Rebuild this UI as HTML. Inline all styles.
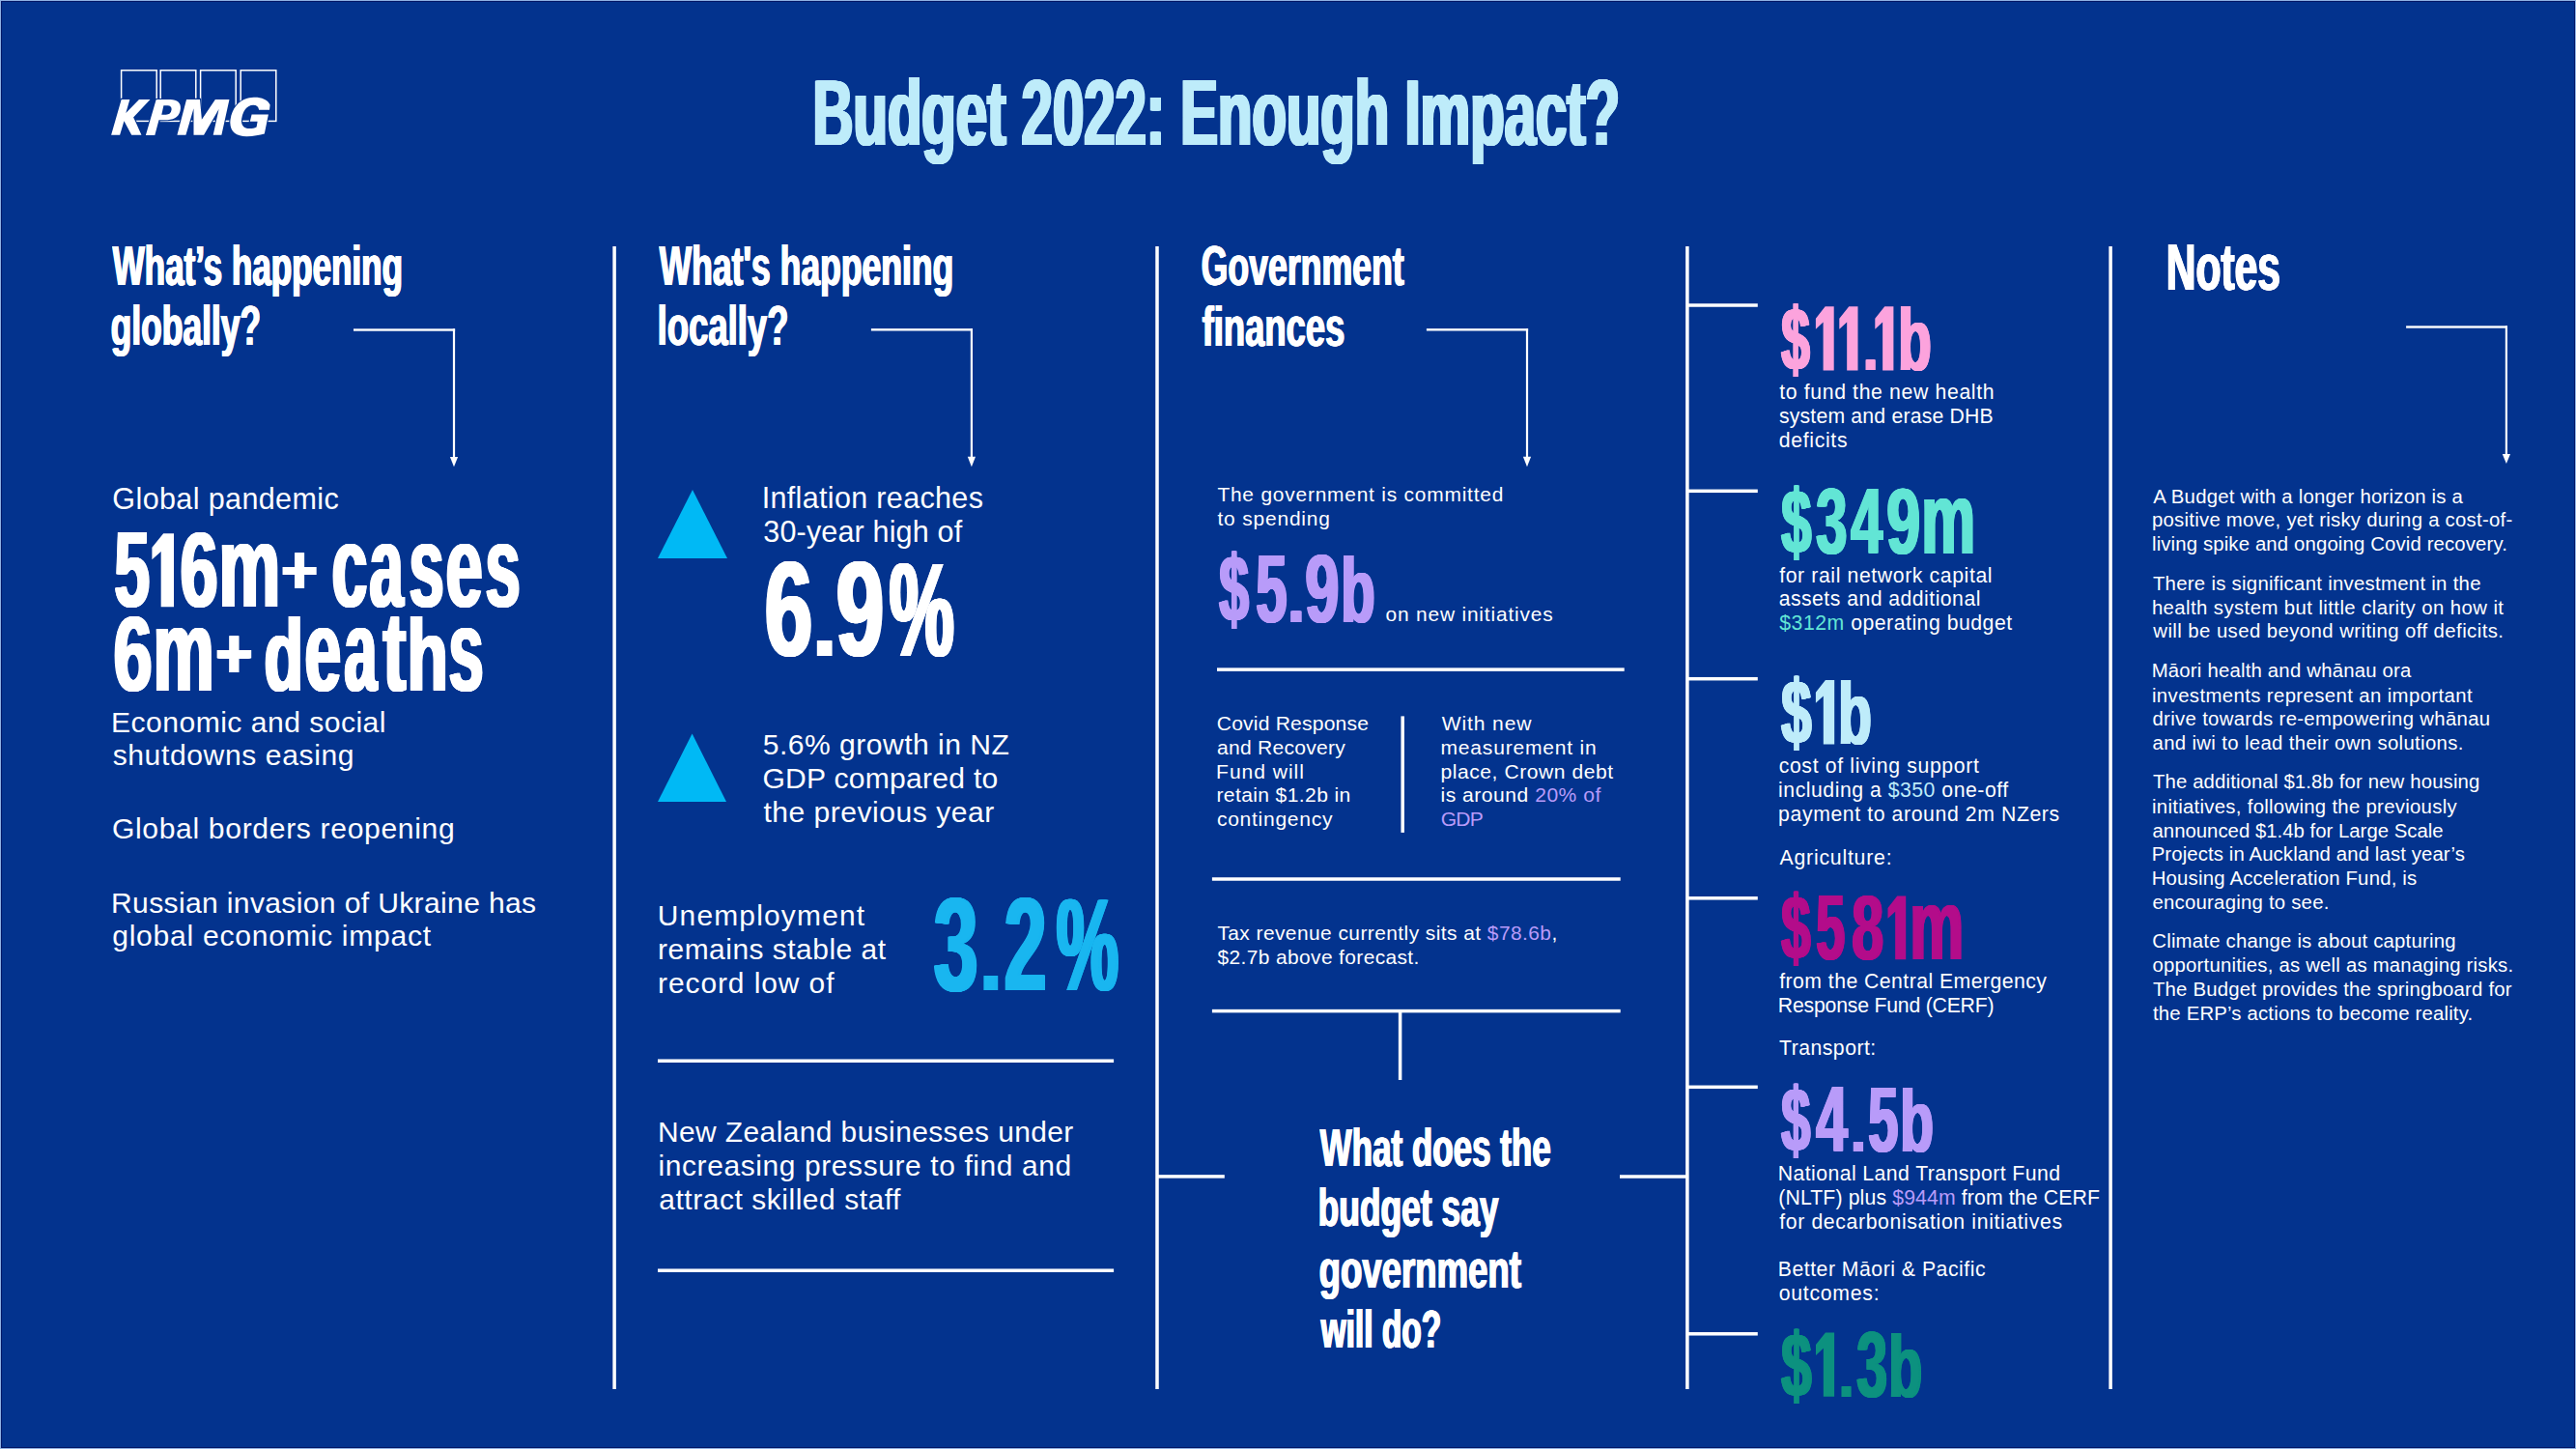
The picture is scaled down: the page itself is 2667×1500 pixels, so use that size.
<!DOCTYPE html>
<html><head><meta charset="utf-8"><style>
html,body{margin:0;padding:0;}
body{width:2667px;height:1500px;overflow:hidden;position:relative;background:#03338e;font-family:"Liberation Sans",sans-serif;}
.t{position:absolute;white-space:pre;transform-origin:0 0;}
.r{position:absolute;}
svg{position:absolute;left:0;top:0;}
</style></head><body>
<div class="r" style="left:0px;top:0px;width:2667px;height:1px;background:#8fb1e3"></div>
<div class="r" style="left:0px;top:1499px;width:2667px;height:1px;background:#8fb1e3"></div>
<div class="r" style="left:0px;top:0px;width:1px;height:1500px;background:#8fb1e3"></div>
<div class="r" style="left:2666px;top:0px;width:1px;height:1500px;background:#8fb1e3"></div>
<div class="r" style="left:1px;top:1px;width:2665px;height:1px;background:#001766"></div>
<div class="r" style="left:1px;top:1498px;width:2665px;height:1px;background:#001766"></div>
<div class="r" style="left:1px;top:1px;width:1px;height:1498px;background:#001766"></div>
<div class="r" style="left:2665px;top:1px;width:1px;height:1498px;background:#001766"></div>
<svg width="2667" height="1500" style="position:absolute;left:0;top:0"><g fill="#fff"><rect x="634.35" y="255.00" width="3.50" height="1183.00"/><rect x="1196.25" y="255.00" width="3.50" height="1183.00"/><rect x="1745.15" y="255.00" width="3.50" height="1183.00"/><rect x="2183.35" y="255.00" width="3.50" height="1183.00"/><rect x="681.00" y="1096.45" width="472.10" height="3.50"/><rect x="681.00" y="1313.45" width="472.10" height="3.50"/><rect x="1260.00" y="691.35" width="421.70" height="3.50"/><rect x="1254.90" y="908.25" width="422.80" height="3.50"/><rect x="1254.90" y="1044.85" width="422.80" height="3.50"/><rect x="1450.45" y="741.40" width="3.50" height="120.50"/><rect x="1447.85" y="1046.00" width="3.50" height="72.00"/><rect x="1198.00" y="1216.15" width="69.80" height="3.50"/><rect x="1677.00" y="1216.25" width="70.00" height="3.50"/><rect x="1746.90" y="314.25" width="72.90" height="3.50"/><rect x="1746.90" y="506.55" width="72.90" height="3.50"/><rect x="1746.90" y="700.95" width="72.90" height="3.50"/><rect x="1746.90" y="928.05" width="72.90" height="3.50"/><rect x="1746.90" y="1123.55" width="72.90" height="3.50"/><rect x="1746.90" y="1379.05" width="72.90" height="3.50"/></g></svg>
<svg width="2667" height="1500" style="position:absolute;left:0;top:0"><g fill="none" stroke="#fff" stroke-width="1.5"><rect x="125.6" y="72.8" width="36.6" height="52.6"/><rect x="166.2" y="72.8" width="36.6" height="52.6"/><rect x="207.6" y="72.8" width="36.6" height="52.6"/><rect x="249.2" y="72.8" width="36.6" height="52.6"/></g><g fill="#fff" stroke="#03338e" stroke-width="2.2" paint-order="stroke" stroke-linejoin="miter"><polygon points="125.66,102.97 134.36,102.97 130.32,116.94 143.99,102.97 155.48,102.97 138.09,121.60 139.95,125.33 146.47,139.77 136.22,139.77 128.46,125.33 124.11,139.77 115.11,139.77"/><path d="M161.7,103 L176.4,103 C183.5,103 187.6,106.5 186.9,112.8 C186.1,120 181.5,123.9 173.5,124.2 L164.5,124.3 L160.3,139.9 L150.9,139.9 Z M169.4,109.2 L167.3,118.8 L171.8,118.8 C175.2,118.8 177.2,117 177.6,113.6 C177.9,110.8 176.3,109.2 173.6,109.2 Z" fill-rule="evenodd"/><polygon points="193.04,102.97 207.02,102.97 208.88,123.78 222.86,102.97 237.45,102.97 229.38,139.77 220.68,139.77 226.58,112.91 211.06,139.77 200.50,139.77 200.50,112.29 192.42,139.77 183.42,139.77"/><path d="M279.6,108.6 C277.2,103 270.5,100.6 262.8,100.8 C249.5,101.2 240.6,110.5 238.6,123.5 C236.8,135.5 244,141.3 255.5,141.2 C262.5,141.1 268.5,140.2 273.8,138.6 L277.9,118.6 L260.6,118.6 L258.8,125.8 L266.6,125.8 L265.6,131.6 C263.8,132.6 261.2,133.1 258.5,133.1 C252,133 249.2,129.3 250.2,122.8 C251.6,114.2 256.2,108.8 262.2,108.8 C265.6,108.8 267.6,110.6 268.1,113.7 L279,113.7 Z"/></g></svg>
<div class="t" style="left:839.63px;top:55.30px;font-size:95.64px;line-height:124px;font-weight:700;color:#beecfa;text-shadow:0.62px 0 0,1.24px 0 0,1.85px 0 0,2.47px 0 0,3.09px 0 0,3.71px 0 0,4.32px 0 0,4.94px 0 0;transform:scaleX(0.6072);">Budget 2022: Enough Impact?</div>
<div class="t" style="left:115.60px;top:238.80px;font-size:56.69px;line-height:74px;font-weight:700;color:#fff;text-shadow:0.53px 0 0,1.05px 0 0,1.58px 0 0,2.10px 0 0;transform:scaleX(0.6179);">What’s happening</div>
<div class="t" style="left:114.18px;top:300.90px;font-size:56.69px;line-height:74px;font-weight:700;color:#fff;text-shadow:0.69px 0 0,1.39px 0 0,2.08px 0 0;transform:scaleX(0.6247);">globally?</div>
<div class="t" style="left:682.20px;top:239.10px;font-size:56.69px;line-height:74px;font-weight:700;color:#fff;text-shadow:0.69px 0 0,1.38px 0 0,2.07px 0 0;transform:scaleX(0.6270);">What's happening</div>
<div class="t" style="left:679.65px;top:301.20px;font-size:56.69px;line-height:74px;font-weight:700;color:#fff;text-shadow:0.67px 0 0,1.35px 0 0,2.02px 0 0;transform:scaleX(0.6434);">locally?</div>
<div class="t" style="left:1242.97px;top:237.90px;font-size:57.41px;line-height:75px;font-weight:700;color:#fff;text-shadow:0.70px 0 0,1.40px 0 0,2.09px 0 0;transform:scaleX(0.6212);">Government</div>
<div class="t" style="left:1243.85px;top:300.50px;font-size:57.41px;line-height:75px;font-weight:700;color:#fff;text-shadow:0.68px 0 0,1.37px 0 0,2.05px 0 0;transform:scaleX(0.6340);">finances</div>
<div class="t" style="left:2242.14px;top:231.50px;font-size:68.32px;line-height:89px;font-weight:700;color:#fff;text-shadow:0.64px 0 0,1.29px 0 0,1.93px 0 0,2.57px 0 0;transform:scaleX(0.6223);">Notes</div>
<div class="t" style="left:1366.40px;top:1150.90px;font-size:56.25px;line-height:73px;font-weight:700;color:#fff;text-shadow:0.70px 0 0,1.39px 0 0,2.09px 0 0;transform:scaleX(0.6220);">What does the</div>
<div class="t" style="left:1364.10px;top:1213.40px;font-size:56.25px;line-height:73px;font-weight:700;color:#fff;text-shadow:0.69px 0 0,1.38px 0 0,2.07px 0 0;transform:scaleX(0.6292);">budget say</div>
<div class="t" style="left:1364.94px;top:1276.80px;font-size:56.25px;line-height:73px;font-weight:700;color:#fff;text-shadow:0.67px 0 0,1.33px 0 0,2.00px 0 0;transform:scaleX(0.6500);">government</div>
<div class="t" style="left:1366.57px;top:1339.30px;font-size:56.25px;line-height:73px;font-weight:700;color:#fff;text-shadow:0.55px 0 0,1.09px 0 0,1.64px 0 0,2.19px 0 0;transform:scaleX(0.5948);">will do?</div>
<svg width="2667" height="1500" style="position:absolute;left:0;top:0"><g fill="#fff"><rect x="366.00" y="340.30" width="105.10" height="2.40"/><rect x="468.90" y="340.30" width="2.2" height="133.60"/><polygon points="465.90,472.90 474.10,472.90 470.00,483.30"/><rect x="901.90" y="340.10" width="105.10" height="2.40"/><rect x="1004.80" y="340.10" width="2.2" height="133.70"/><polygon points="1001.80,472.80 1010.00,472.80 1005.90,483.20"/><rect x="1476.90" y="340.10" width="105.20" height="2.40"/><rect x="1579.90" y="340.10" width="2.2" height="133.70"/><polygon points="1576.90,472.80 1585.10,472.80 1581.00,483.20"/><rect x="2491.10" y="337.30" width="104.90" height="2.40"/><rect x="2593.80" y="337.30" width="2.2" height="133.70"/><polygon points="2590.80,470.00 2599.00,470.00 2594.90,479.90"/></g></svg>
<div class="t" style="left:116.37px;top:495.60px;font-size:30.52px;line-height:40px;color:#fff;letter-spacing:0.379px;">Global pandemic</div>
<div class="t" style="left:117.03px;top:517.80px;font-size:110.47px;line-height:144px;font-weight:700;color:#fff;text-shadow:0.63px 0 0,1.26px 0 0,1.89px 0 0,2.53px 0 0,3.16px 0 0,3.79px 0 0,4.42px 0 0,5.05px 0 0;transform-origin:0 110.50px;transform:translateY(0.00px) scale(0.5938,1.0007);">5</div>
<svg width="2667" height="1500" style="position:absolute;left:0;top:0"><polygon points="169.15,552.30 180.00,552.30 180.00,628.30 166.67,628.30 166.67,571.00 157.40,579.28 157.40,566.74" fill="#fff"/></svg>
<div class="t" style="left:184.84px;top:517.80px;font-size:110.47px;line-height:144px;font-weight:700;color:#fff;text-shadow:0.67px 0 0,1.35px 0 0,2.02px 0 0,2.69px 0 0,3.37px 0 0,4.04px 0 0,4.71px 0 0;transform-origin:0 110.50px;transform:translateY(0.00px) scale(0.6365,0.9864);">6</div>
<div class="t" style="left:225.35px;top:517.80px;font-size:110.47px;line-height:144px;font-weight:700;color:#fff;text-shadow:0.66px 0 0,1.32px 0 0,1.98px 0 0,2.64px 0 0,3.31px 0 0,3.97px 0 0,4.63px 0 0;transform-origin:0 110.50px;transform:translateY(0.00px) scale(0.6482,1.0863);">m</div>
<div class="t" style="left:290.49px;top:517.80px;font-size:110.47px;line-height:144px;font-weight:700;color:#fff;text-shadow:0.65px 0 0,1.30px 0 0,1.95px 0 0,2.60px 0 0,3.25px 0 0,3.90px 0 0,4.55px 0 0,5.20px 0 0;transform-origin:0 110.50px;transform:translateY(-13.66px) scale(0.5765,0.6585);">+</div>
<div class="t" style="left:341.62px;top:517.80px;font-size:110.47px;line-height:144px;font-weight:700;color:#fff;text-shadow:0.63px 0 0,1.25px 0 0,1.88px 0 0,2.51px 0 0,3.13px 0 0,3.76px 0 0,4.39px 0 0,5.01px 0 0;transform-origin:0 110.50px;transform:translateY(0.00px) scale(0.5986,1.0863);">c</div>
<div class="t" style="left:380.77px;top:517.80px;font-size:110.47px;line-height:144px;font-weight:700;color:#fff;text-shadow:0.66px 0 0,1.32px 0 0,1.97px 0 0,2.63px 0 0,3.29px 0 0,3.95px 0 0,4.60px 0 0,5.26px 0 0;transform-origin:0 110.50px;transform:translateY(0.00px) scale(0.5702,1.0863);">a</div>
<div class="t" style="left:421.62px;top:517.80px;font-size:110.47px;line-height:144px;font-weight:700;color:#fff;text-shadow:0.64px 0 0,1.27px 0 0,1.91px 0 0,2.55px 0 0,3.19px 0 0,3.82px 0 0,4.46px 0 0,5.10px 0 0;transform-origin:0 110.50px;transform:translateY(0.00px) scale(0.5884,1.0863);">s</div>
<div class="t" style="left:460.23px;top:517.80px;font-size:110.47px;line-height:144px;font-weight:700;color:#fff;text-shadow:0.69px 0 0,1.38px 0 0,2.07px 0 0,2.76px 0 0,3.45px 0 0,4.14px 0 0,4.83px 0 0;transform-origin:0 110.50px;transform:translateY(0.00px) scale(0.6215,1.0863);">e</div>
<div class="t" style="left:500.62px;top:517.80px;font-size:110.47px;line-height:144px;font-weight:700;color:#fff;text-shadow:0.64px 0 0,1.27px 0 0,1.91px 0 0,2.55px 0 0,3.19px 0 0,3.82px 0 0,4.46px 0 0,5.10px 0 0;transform-origin:0 110.50px;transform:translateY(0.00px) scale(0.5884,1.0863);">s</div>
<div class="t" style="left:115.97px;top:605.30px;font-size:110.47px;line-height:144px;font-weight:700;color:#fff;text-shadow:0.66px 0 0,1.31px 0 0,1.97px 0 0,2.62px 0 0,3.28px 0 0,3.94px 0 0,4.59px 0 0;transform-origin:0 110.50px;transform:translateY(0.00px) scale(0.6533,0.9967);">6</div>
<div class="t" style="left:157.48px;top:605.30px;font-size:110.47px;line-height:144px;font-weight:700;color:#fff;text-shadow:0.67px 0 0,1.33px 0 0,2.00px 0 0,2.66px 0 0,3.33px 0 0,4.00px 0 0,4.66px 0 0;transform-origin:0 110.50px;transform:translateY(0.00px) scale(0.6435,1.0863);">m</div>
<div class="t" style="left:221.65px;top:605.30px;font-size:110.47px;line-height:144px;font-weight:700;color:#fff;text-shadow:0.64px 0 0,1.28px 0 0,1.92px 0 0,2.56px 0 0,3.20px 0 0,3.84px 0 0,4.48px 0 0,5.12px 0 0;transform-origin:0 110.50px;transform:translateY(-13.03px) scale(0.5855,0.6745);">+</div>
<div class="t" style="left:272.16px;top:605.30px;font-size:110.47px;line-height:144px;font-weight:700;color:#fff;text-shadow:0.63px 0 0,1.26px 0 0,1.88px 0 0,2.51px 0 0,3.14px 0 0,3.77px 0 0,4.40px 0 0,5.03px 0 0;transform-origin:0 110.50px;transform:translateY(0.00px) scale(0.5969,0.9489);">d</div>
<div class="t" style="left:314.16px;top:605.30px;font-size:110.47px;line-height:144px;font-weight:700;color:#fff;text-shadow:0.61px 0 0,1.23px 0 0,1.84px 0 0,2.45px 0 0,3.06px 0 0,3.68px 0 0,4.29px 0 0,4.90px 0 0;transform-origin:0 110.50px;transform:translateY(0.00px) scale(0.6122,1.0930);">e</div>
<div class="t" style="left:355.13px;top:605.30px;font-size:110.47px;line-height:144px;font-weight:700;color:#fff;text-shadow:0.68px 0 0,1.37px 0 0,2.05px 0 0,2.74px 0 0,3.42px 0 0,4.10px 0 0,4.79px 0 0,5.47px 0 0;transform-origin:0 110.50px;transform:translateY(0.00px) scale(0.5482,1.0930);">a</div>
<div class="t" style="left:394.70px;top:605.30px;font-size:110.47px;line-height:144px;font-weight:700;color:#fff;text-shadow:0.66px 0 0,1.32px 0 0,1.98px 0 0,2.64px 0 0,3.31px 0 0,3.97px 0 0,4.63px 0 0;transform-origin:0 110.50px;transform:translateY(0.00px) scale(0.6483,1.0544);">t</div>
<div class="t" style="left:420.24px;top:605.30px;font-size:110.47px;line-height:144px;font-weight:700;color:#fff;text-shadow:0.68px 0 0,1.36px 0 0,2.05px 0 0,2.73px 0 0,3.41px 0 0,4.09px 0 0,4.78px 0 0;transform-origin:0 110.50px;transform:translateY(0.00px) scale(0.6280,0.9489);">h</div>
<div class="t" style="left:463.43px;top:605.30px;font-size:110.47px;line-height:144px;font-weight:700;color:#fff;text-shadow:0.64px 0 0,1.28px 0 0,1.92px 0 0,2.56px 0 0,3.20px 0 0,3.84px 0 0,4.48px 0 0,5.11px 0 0;transform-origin:0 110.50px;transform:translateY(0.00px) scale(0.5865,1.0930);">s</div>
<div class="t" style="left:114.99px;top:727.70px;font-size:30.09px;line-height:39px;color:#fff;letter-spacing:0.481px;">Economic and social</div>
<div class="t" style="left:116.65px;top:761.50px;font-size:30.09px;line-height:39px;color:#fff;letter-spacing:0.607px;">shutdowns easing</div>
<div class="t" style="left:115.90px;top:837.90px;font-size:30.09px;line-height:39px;color:#fff;letter-spacing:0.668px;">Global borders reopening</div>
<div class="t" style="left:114.99px;top:915.20px;font-size:30.09px;line-height:39px;color:#fff;letter-spacing:0.349px;">Russian invasion of Ukraine has</div>
<div class="t" style="left:116.20px;top:949.00px;font-size:30.09px;line-height:39px;color:#fff;letter-spacing:0.747px;">global economic impact</div>
<svg width="2667" height="1500" style="position:absolute;left:0;top:0"><polygon points="681,578 753,578 717,507" fill="#00b9f5"/><polygon points="681,830 752,830 716.6,759.5" fill="#00b9f5"/></svg>
<div class="t" style="left:788.65px;top:494.70px;font-size:30.52px;line-height:40px;color:#fff;letter-spacing:0.336px;">Inflation reaches</div>
<div class="t" style="left:790.33px;top:529.70px;font-size:30.52px;line-height:40px;color:#fff;letter-spacing:0.159px;">30-year high of</div>
<div class="t" style="left:790.09px;top:540.80px;font-size:139.54px;line-height:181px;font-weight:700;color:#fff;text-shadow:0.69px 0 0,1.37px 0 0,2.06px 0 0,2.75px 0 0,3.43px 0 0,4.12px 0 0,4.81px 0 0,5.50px 0 0;transform-origin:0 138.50px;transform:translateY(0.00px) scale(0.6369,0.9915);">6</div>
<div class="t" style="left:840.37px;top:540.80px;font-size:139.54px;line-height:181px;font-weight:700;color:#fff;text-shadow:0.63px 0 0,1.26px 0 0,1.89px 0 0,2.51px 0 0,3.14px 0 0,3.77px 0 0,4.40px 0 0,5.03px 0 0,5.66px 0 0;transform-origin:0 138.50px;transform:translateY(0.00px) scale(0.6186,0.7549);">.</div>
<div class="t" style="left:864.39px;top:540.80px;font-size:139.54px;line-height:181px;font-weight:700;color:#fff;text-shadow:0.69px 0 0,1.37px 0 0,2.06px 0 0,2.75px 0 0,3.43px 0 0,4.12px 0 0,4.81px 0 0,5.50px 0 0;transform-origin:0 138.50px;transform:translateY(0.00px) scale(0.6369,0.9915);">9</div>
<div class="t" style="left:919.02px;top:540.80px;font-size:139.54px;line-height:181px;font-weight:700;color:#fff;text-shadow:0.65px 0 0,1.30px 0 0,1.94px 0 0,2.59px 0 0,3.24px 0 0,3.89px 0 0,4.54px 0 0,5.19px 0 0,5.83px 0 0,6.48px 0 0;transform-origin:0 138.50px;transform:translateY(0.00px) scale(0.5400,0.9827);">%</div>
<div class="t" style="left:789.70px;top:751.00px;font-size:30.09px;line-height:39px;color:#fff;letter-spacing:0.483px;">5.6% growth in NZ</div>
<div class="t" style="left:789.40px;top:785.75px;font-size:30.09px;line-height:39px;color:#fff;letter-spacing:0.268px;">GDP compared to</div>
<div class="t" style="left:790.45px;top:820.50px;font-size:30.09px;line-height:39px;color:#fff;letter-spacing:0.499px;">the previous year</div>
<div class="t" style="left:680.75px;top:928.00px;font-size:29.94px;line-height:39px;color:#fff;letter-spacing:1.185px;">Unemployment</div>
<div class="t" style="left:681.05px;top:962.80px;font-size:29.94px;line-height:39px;color:#fff;letter-spacing:0.496px;">remains stable at</div>
<div class="t" style="left:681.05px;top:997.60px;font-size:29.94px;line-height:39px;color:#fff;letter-spacing:0.919px;">record low of</div>
<div class="t" style="left:964.65px;top:886.70px;font-size:138.37px;line-height:180px;font-weight:700;color:#19b6f0;text-shadow:0.65px 0 0,1.31px 0 0,1.96px 0 0,2.62px 0 0,3.27px 0 0,3.93px 0 0,4.58px 0 0,5.24px 0 0,5.89px 0 0;transform-origin:0 138.00px;transform:translateY(0.00px) scale(0.5941,0.9905);">3</div>
<div class="t" style="left:1012.80px;top:886.70px;font-size:138.37px;line-height:180px;font-weight:700;color:#19b6f0;text-shadow:0.67px 0 0,1.35px 0 0,2.02px 0 0,2.69px 0 0,3.36px 0 0,4.04px 0 0,4.71px 0 0,5.38px 0 0,6.05px 0 0;transform-origin:0 138.00px;transform:translateY(0.00px) scale(0.5781,0.7179);">.</div>
<div class="t" style="left:1038.05px;top:886.70px;font-size:138.37px;line-height:180px;font-weight:700;color:#19b6f0;text-shadow:0.69px 0 0,1.37px 0 0,2.06px 0 0,2.74px 0 0,3.43px 0 0,4.11px 0 0,4.80px 0 0,5.48px 0 0,6.17px 0 0;transform-origin:0 138.00px;transform:translateY(0.00px) scale(0.5677,0.9905);">2</div>
<div class="t" style="left:1091.99px;top:886.70px;font-size:138.37px;line-height:180px;font-weight:700;color:#19b6f0;text-shadow:0.67px 0 0,1.34px 0 0,2.01px 0 0,2.68px 0 0,3.35px 0 0,4.02px 0 0,4.69px 0 0,5.36px 0 0,6.03px 0 0,6.70px 0 0;transform-origin:0 138.00px;transform:translateY(0.00px) scale(0.5221,0.9847);">%</div>
<div class="t" style="left:681.00px;top:1152.10px;font-size:29.94px;line-height:39px;color:#fff;letter-spacing:0.406px;">New Zealand businesses under</div>
<div class="t" style="left:681.45px;top:1186.95px;font-size:29.94px;line-height:39px;color:#fff;letter-spacing:0.613px;">increasing pressure to find and</div>
<div class="t" style="left:682.20px;top:1221.80px;font-size:29.94px;line-height:39px;color:#fff;letter-spacing:0.560px;">attract skilled staff</div>
<div class="t" style="left:1260.38px;top:498.40px;font-size:20.93px;line-height:27px;color:#fff;letter-spacing:0.785px;">The government is committed</div>
<div class="t" style="left:1260.49px;top:522.80px;font-size:20.93px;line-height:27px;color:#fff;letter-spacing:0.826px;">to spending</div>
<div class="t" style="left:1260.91px;top:544.60px;font-size:99.27px;line-height:129px;font-weight:700;color:#b89bf9;text-shadow:0.70px 0 0,1.39px 0 0,2.09px 0 0,2.79px 0 0,3.49px 0 0,4.18px 0 0,4.88px 0 0;transform-origin:0 99.00px;transform:translateY(0.00px) scale(0.5531,0.9808);">$</div>
<div class="t" style="left:1298.67px;top:544.60px;font-size:99.27px;line-height:129px;font-weight:700;color:#b89bf9;text-shadow:0.66px 0 0,1.33px 0 0,1.99px 0 0,2.66px 0 0,3.32px 0 0,3.99px 0 0,4.65px 0 0;transform-origin:0 99.00px;transform:translateY(0.00px) scale(0.5802,1.0036);">5</div>
<div class="t" style="left:1332.23px;top:544.60px;font-size:99.27px;line-height:129px;font-weight:700;color:#b89bf9;text-shadow:0.62px 0 0,1.24px 0 0,1.86px 0 0,2.48px 0 0,3.10px 0 0,3.72px 0 0,4.34px 0 0;transform-origin:0 99.00px;transform:translateY(0.00px) scale(0.6221,0.7723);">.</div>
<div class="t" style="left:1349.90px;top:544.60px;font-size:99.27px;line-height:129px;font-weight:700;color:#b89bf9;text-shadow:0.61px 0 0,1.22px 0 0,1.83px 0 0,2.44px 0 0,3.04px 0 0,3.65px 0 0,4.26px 0 0;transform-origin:0 99.00px;transform:translateY(0.00px) scale(0.6335,1.0037);">9</div>
<div class="t" style="left:1387.15px;top:544.60px;font-size:99.27px;line-height:129px;font-weight:700;color:#b89bf9;text-shadow:0.66px 0 0,1.33px 0 0,1.99px 0 0,2.66px 0 0,3.32px 0 0,3.99px 0 0,4.65px 0 0;transform-origin:0 99.00px;transform:translateY(0.00px) scale(0.5804,0.9517);">b</div>
<div class="t" style="left:1434.46px;top:622.00px;font-size:20.93px;line-height:27px;color:#fff;letter-spacing:0.817px;">on new initiatives</div>
<div class="t" style="left:1259.75px;top:735.20px;font-size:21.08px;line-height:27px;color:#fff;letter-spacing:0.200px;">Covid Response</div>
<div class="t" style="left:1259.96px;top:759.95px;font-size:21.08px;line-height:27px;color:#fff;letter-spacing:0.246px;">and Recovery</div>
<div class="t" style="left:1259.11px;top:784.70px;font-size:21.08px;line-height:27px;color:#fff;letter-spacing:0.951px;">Fund will</div>
<div class="t" style="left:1259.43px;top:809.45px;font-size:21.08px;line-height:27px;color:#fff;letter-spacing:0.373px;">retain $1.2b in</div>
<div class="t" style="left:1259.96px;top:834.20px;font-size:21.08px;line-height:27px;color:#fff;letter-spacing:0.700px;">contingency</div>
<div class="t" style="left:1492.79px;top:735.20px;font-size:21.08px;line-height:27px;color:#fff;letter-spacing:0.854px;">With new</div>
<div class="t" style="left:1491.53px;top:759.95px;font-size:21.08px;line-height:27px;color:#fff;letter-spacing:0.771px;">measurement in</div>
<div class="t" style="left:1491.53px;top:784.70px;font-size:21.08px;line-height:27px;color:#fff;letter-spacing:0.538px;">place, Crown debt</div>
<div class="t" style="left:1491.53px;top:809.45px;font-size:21.08px;line-height:27px;color:#fff;letter-spacing:0.506px;">is around <span style="color:#b89bf9">20% of</span></div>
<div class="t" style="left:1491.85px;top:834.20px;font-size:21.08px;line-height:27px;color:#fff;letter-spacing:-0.911px;"><span style="color:#b89bf9">GDP</span></div>
<div class="t" style="left:1260.38px;top:952.30px;font-size:20.93px;line-height:27px;color:#fff;letter-spacing:0.438px;">Tax revenue currently sits at <span style="color:#b89bf9">$78.6b</span>,</div>
<div class="t" style="left:1260.59px;top:977.20px;font-size:20.93px;line-height:27px;color:#fff;letter-spacing:0.377px;">$2.7b above forecast.</div>
<div class="t" style="left:1843.24px;top:287.10px;font-size:96.80px;line-height:126px;font-weight:700;color:#fca3dd;text-shadow:0.68px 0 0,1.36px 0 0,2.03px 0 0,2.71px 0 0,3.39px 0 0,4.07px 0 0,4.75px 0 0;transform-origin:0 96.50px;transform:translateY(0.00px) scale(0.5477,0.9641);">$</div>
<svg width="2667" height="1500" style="position:absolute;left:0;top:0"><polygon points="1889.68,317.20 1898.70,317.20 1898.70,383.60 1887.61,383.60 1887.61,333.53 1879.90,340.77 1879.90,329.82" fill="#fca3dd"/></svg>
<svg width="2667" height="1500" style="position:absolute;left:0;top:0"><polygon points="1914.28,317.20 1923.50,317.20 1923.50,383.60 1912.17,383.60 1912.17,333.53 1904.30,340.77 1904.30,329.82" fill="#fca3dd"/></svg>
<div class="t" style="left:1927.50px;top:287.10px;font-size:96.80px;line-height:126px;font-weight:700;color:#fca3dd;text-shadow:0.67px 0 0,1.35px 0 0,2.02px 0 0,2.70px 0 0,3.37px 0 0,4.05px 0 0,4.72px 0 0;transform-origin:0 96.50px;transform:translateY(0.00px) scale(0.5509,0.7300);">.</div>
<svg width="2667" height="1500" style="position:absolute;left:0;top:0"><polygon points="1951.23,317.20 1960.40,317.20 1960.40,383.60 1949.13,383.60 1949.13,333.53 1941.30,340.77 1941.30,329.82" fill="#fca3dd"/></svg>
<div class="t" style="left:1964.04px;top:287.10px;font-size:96.80px;line-height:126px;font-weight:700;color:#fca3dd;text-shadow:0.64px 0 0,1.28px 0 0,1.92px 0 0,2.56px 0 0,3.20px 0 0,3.84px 0 0,4.48px 0 0;transform-origin:0 96.50px;transform:translateY(0.00px) scale(0.5809,0.9461);">b</div>
<div class="t" style="left:1842.18px;top:392.40px;font-size:21.22px;line-height:28px;color:#fff;letter-spacing:0.646px;">to fund the new health</div>
<div class="t" style="left:1841.97px;top:417.30px;font-size:21.22px;line-height:28px;color:#fff;letter-spacing:0.186px;">system and erase DHB</div>
<div class="t" style="left:1841.65px;top:442.20px;font-size:21.22px;line-height:28px;color:#fff;letter-spacing:0.699px;">deficits</div>
<div class="t" style="left:1843.10px;top:475.50px;font-size:96.66px;line-height:126px;font-weight:700;color:#62e5d5;text-shadow:0.64px 0 0,1.29px 0 0,1.93px 0 0,2.57px 0 0,3.21px 0 0,3.86px 0 0,4.50px 0 0;transform-origin:0 97.00px;transform:translateY(0.00px) scale(0.5778,0.9712);">$</div>
<div class="t" style="left:1878.90px;top:475.50px;font-size:96.66px;line-height:126px;font-weight:700;color:#62e5d5;text-shadow:0.62px 0 0,1.24px 0 0,1.87px 0 0,2.49px 0 0,3.11px 0 0,3.73px 0 0,4.36px 0 0;transform-origin:0 97.00px;transform:translateY(0.00px) scale(0.5968,0.9893);">3</div>
<div class="t" style="left:1914.72px;top:475.50px;font-size:96.66px;line-height:126px;font-weight:700;color:#62e5d5;text-shadow:0.61px 0 0,1.22px 0 0,1.83px 0 0,2.43px 0 0,3.04px 0 0,3.65px 0 0,4.26px 0 0;transform-origin:0 97.00px;transform:translateY(0.00px) scale(0.6102,0.9917);">4</div>
<div class="t" style="left:1952.21px;top:475.50px;font-size:96.66px;line-height:126px;font-weight:700;color:#62e5d5;text-shadow:0.67px 0 0,1.34px 0 0,2.00px 0 0,2.67px 0 0,3.34px 0 0,4.01px 0 0;transform-origin:0 97.00px;transform:translateY(0.00px) scale(0.6485,0.9893);">9</div>
<div class="t" style="left:1987.92px;top:475.50px;font-size:96.66px;line-height:126px;font-weight:700;color:#62e5d5;text-shadow:0.67px 0 0,1.33px 0 0,2.00px 0 0,2.67px 0 0,3.33px 0 0,4.00px 0 0;transform-origin:0 97.00px;transform:translateY(0.00px) scale(0.6499,1.0913);">m</div>
<div class="t" style="left:1842.18px;top:581.50px;font-size:21.22px;line-height:28px;color:#fff;letter-spacing:0.610px;">for rail network capital</div>
<div class="t" style="left:1841.65px;top:606.30px;font-size:21.22px;line-height:28px;color:#fff;letter-spacing:0.468px;">assets and additional</div>
<div class="t" style="left:1842.29px;top:631.10px;font-size:21.22px;line-height:28px;color:#fff;letter-spacing:0.513px;"><span style="color:#62e5d5">$312m</span> operating budget</div>
<div class="t" style="left:1843.20px;top:674.10px;font-size:96.95px;line-height:126px;font-weight:700;color:#beecfa;text-shadow:0.64px 0 0,1.29px 0 0,1.93px 0 0,2.57px 0 0,3.21px 0 0,3.86px 0 0,4.50px 0 0;transform-origin:0 96.50px;transform:translateY(0.00px) scale(0.5780,0.9710);">$</div>
<svg width="2667" height="1500" style="position:absolute;left:0;top:0"><polygon points="1889.94,704.10 1899.20,704.10 1899.20,770.60 1887.81,770.60 1887.81,720.46 1879.90,727.71 1879.90,716.74" fill="#beecfa"/></svg>
<div class="t" style="left:1902.33px;top:674.10px;font-size:96.95px;line-height:126px;font-weight:700;color:#beecfa;text-shadow:0.64px 0 0,1.28px 0 0,1.91px 0 0,2.55px 0 0,3.19px 0 0,3.83px 0 0,4.47px 0 0;transform-origin:0 96.50px;transform:translateY(0.00px) scale(0.5821,0.9461);">b</div>
<div class="t" style="left:1841.65px;top:779.40px;font-size:21.22px;line-height:28px;color:#fff;letter-spacing:0.658px;">cost of living support</div>
<div class="t" style="left:1841.12px;top:804.00px;font-size:21.22px;line-height:28px;color:#fff;letter-spacing:0.516px;">including a <span style="color:#beecfa">$350</span> one-off</div>
<div class="t" style="left:1841.12px;top:828.60px;font-size:21.22px;line-height:28px;color:#fff;letter-spacing:0.602px;">payment to around 2m NZers</div>
<div class="t" style="left:1842.50px;top:873.60px;font-size:21.22px;line-height:28px;color:#fff;letter-spacing:0.794px;">Agriculture:</div>
<div class="t" style="left:1843.32px;top:897.20px;font-size:96.37px;line-height:125px;font-weight:700;color:#b30c8a;text-shadow:0.66px 0 0,1.32px 0 0,1.98px 0 0,2.63px 0 0,3.29px 0 0,3.95px 0 0,4.61px 0 0;transform-origin:0 96.00px;transform:translateY(0.00px) scale(0.5639,0.9727);">$</div>
<div class="t" style="left:1879.39px;top:897.20px;font-size:96.37px;line-height:125px;font-weight:700;color:#b30c8a;text-shadow:0.67px 0 0,1.34px 0 0,2.00px 0 0,2.67px 0 0,3.34px 0 0,4.01px 0 0,4.67px 0 0;transform-origin:0 96.00px;transform:translateY(0.00px) scale(0.5562,0.9917);">5</div>
<div class="t" style="left:1915.83px;top:897.20px;font-size:96.37px;line-height:125px;font-weight:700;color:#b30c8a;text-shadow:0.61px 0 0,1.21px 0 0,1.82px 0 0,2.43px 0 0,3.03px 0 0,3.64px 0 0,4.25px 0 0;transform-origin:0 96.00px;transform:translateY(0.00px) scale(0.6121,0.9849);">8</div>
<svg width="2667" height="1500" style="position:absolute;left:0;top:0"><polygon points="1964.22,927.50 1973.20,927.50 1973.20,993.20 1962.17,993.20 1962.17,943.66 1954.50,950.82 1954.50,939.98" fill="#b30c8a"/></svg>
<div class="t" style="left:1975.52px;top:897.20px;font-size:96.37px;line-height:125px;font-weight:700;color:#b30c8a;text-shadow:0.66px 0 0,1.33px 0 0,1.99px 0 0,2.66px 0 0,3.32px 0 0,3.99px 0 0;transform-origin:0 96.00px;transform:translateY(0.00px) scale(0.6519,1.0753);">m</div>
<div class="t" style="left:1842.18px;top:1002.20px;font-size:21.22px;line-height:28px;color:#fff;letter-spacing:0.458px;">from the Central Emergency</div>
<div class="t" style="left:1840.80px;top:1027.30px;font-size:21.22px;line-height:28px;color:#fff;letter-spacing:-0.201px;">Response Fund (CERF)</div>
<div class="t" style="left:1842.08px;top:1070.80px;font-size:21.22px;line-height:28px;color:#fff;letter-spacing:0.468px;">Transport:</div>
<div class="t" style="left:1843.13px;top:1097.10px;font-size:95.21px;line-height:124px;font-weight:700;color:#b89bf9;text-shadow:0.66px 0 0,1.31px 0 0,1.97px 0 0,2.62px 0 0,3.28px 0 0,3.93px 0 0,4.59px 0 0;transform-origin:0 95.00px;transform:translateY(0.00px) scale(0.5668,0.9888);">$</div>
<div class="t" style="left:1878.52px;top:1097.10px;font-size:95.21px;line-height:124px;font-weight:700;color:#b89bf9;text-shadow:0.61px 0 0,1.21px 0 0,1.82px 0 0,2.42px 0 0,3.03px 0 0,3.63px 0 0,4.24px 0 0;transform-origin:0 95.00px;transform:translateY(0.00px) scale(0.6136,1.0114);">4</div>
<div class="t" style="left:1914.76px;top:1097.10px;font-size:95.21px;line-height:124px;font-weight:700;color:#b89bf9;text-shadow:0.64px 0 0,1.28px 0 0,1.91px 0 0,2.55px 0 0,3.19px 0 0,3.83px 0 0,4.46px 0 0;transform-origin:0 95.00px;transform:translateY(0.00px) scale(0.5823,0.7072);">.</div>
<div class="t" style="left:1932.83px;top:1097.10px;font-size:95.21px;line-height:124px;font-weight:700;color:#b89bf9;text-shadow:0.63px 0 0,1.27px 0 0,1.90px 0 0,2.53px 0 0,3.17px 0 0,3.80px 0 0,4.44px 0 0;transform-origin:0 95.00px;transform:translateY(0.00px) scale(0.5861,1.0114);">5</div>
<div class="t" style="left:1966.12px;top:1097.10px;font-size:95.21px;line-height:124px;font-weight:700;color:#b89bf9;text-shadow:0.62px 0 0,1.25px 0 0,1.87px 0 0,2.50px 0 0,3.12px 0 0,3.75px 0 0,4.37px 0 0;transform-origin:0 95.00px;transform:translateY(0.00px) scale(0.5949,0.9591);">b</div>
<div class="t" style="left:1840.80px;top:1200.60px;font-size:21.22px;line-height:28px;color:#fff;letter-spacing:0.423px;">National Land Transport Fund</div>
<div class="t" style="left:1841.23px;top:1225.65px;font-size:21.22px;line-height:28px;color:#fff;letter-spacing:0.137px;">(NLTF) plus <span style="color:#b89bf9">$944m</span> from the CERF</div>
<div class="t" style="left:1842.18px;top:1250.70px;font-size:21.22px;line-height:28px;color:#fff;letter-spacing:0.640px;">for decarbonisation initiatives</div>
<div class="t" style="left:1840.80px;top:1299.80px;font-size:21.22px;line-height:28px;color:#fff;letter-spacing:0.509px;">Better Māori &amp; Pacific</div>
<div class="t" style="left:1841.65px;top:1324.80px;font-size:21.22px;line-height:28px;color:#fff;letter-spacing:0.753px;">outcomes:</div>
<div class="t" style="left:1842.80px;top:1349.80px;font-size:96.51px;line-height:125px;font-weight:700;color:#0c917f;text-shadow:0.64px 0 0,1.28px 0 0,1.92px 0 0,2.56px 0 0,3.20px 0 0,3.84px 0 0,4.48px 0 0;transform-origin:0 96.00px;transform:translateY(0.00px) scale(0.5806,0.9754);">$</div>
<svg width="2667" height="1500" style="position:absolute;left:0;top:0"><polygon points="1889.93,1379.40 1899.10,1379.40 1899.10,1445.80 1887.83,1445.80 1887.83,1395.73 1880.00,1402.97 1880.00,1392.02" fill="#0c917f"/></svg>
<div class="t" style="left:1903.25px;top:1349.80px;font-size:96.51px;line-height:125px;font-weight:700;color:#0c917f;text-shadow:0.68px 0 0,1.36px 0 0,2.04px 0 0,2.72px 0 0,3.41px 0 0,4.09px 0 0,4.77px 0 0;transform-origin:0 96.00px;transform:translateY(0.00px) scale(0.5453,0.7529);">.</div>
<div class="t" style="left:1920.72px;top:1349.80px;font-size:96.51px;line-height:125px;font-weight:700;color:#0c917f;text-shadow:0.63px 0 0,1.26px 0 0,1.88px 0 0,2.51px 0 0,3.14px 0 0,3.77px 0 0,4.40px 0 0;transform-origin:0 96.00px;transform:translateY(0.00px) scale(0.5915,0.9953);">3</div>
<div class="t" style="left:1954.28px;top:1349.80px;font-size:96.51px;line-height:125px;font-weight:700;color:#0c917f;text-shadow:0.63px 0 0,1.25px 0 0,1.88px 0 0,2.51px 0 0,3.13px 0 0,3.76px 0 0,4.38px 0 0;transform-origin:0 96.00px;transform:translateY(0.00px) scale(0.5930,0.9489);">b</div>
<div class="t" style="left:2229.30px;top:500.60px;font-size:20.35px;line-height:26px;color:#fff;letter-spacing:0.215px;">A Budget with a longer horizon is a</div>
<div class="t" style="left:2227.98px;top:525.45px;font-size:20.35px;line-height:26px;color:#fff;letter-spacing:0.251px;">positive move, yet risky during a cost-of-</div>
<div class="t" style="left:2227.98px;top:550.30px;font-size:20.35px;line-height:26px;color:#fff;letter-spacing:0.137px;">living spike and ongoing Covid recovery.</div>
<div class="t" style="left:2228.89px;top:590.70px;font-size:20.35px;line-height:26px;color:#fff;letter-spacing:0.286px;">There is significant investment in the</div>
<div class="t" style="left:2227.88px;top:615.55px;font-size:20.35px;line-height:26px;color:#fff;letter-spacing:0.414px;">health system but little clarity on how it</div>
<div class="t" style="left:2229.30px;top:640.40px;font-size:20.35px;line-height:26px;color:#fff;letter-spacing:0.425px;">will be used beyond writing off deficits.</div>
<div class="t" style="left:2227.67px;top:680.70px;font-size:20.35px;line-height:26px;color:#fff;letter-spacing:0.200px;">Māori health and whānau ora</div>
<div class="t" style="left:2227.98px;top:706.60px;font-size:20.35px;line-height:26px;color:#fff;letter-spacing:0.386px;">investments represent an important</div>
<div class="t" style="left:2228.49px;top:730.60px;font-size:20.35px;line-height:26px;color:#fff;letter-spacing:0.316px;">drive towards re-empowering whānau</div>
<div class="t" style="left:2228.49px;top:756.30px;font-size:20.35px;line-height:26px;color:#fff;letter-spacing:0.346px;">and iwi to lead their own solutions.</div>
<div class="t" style="left:2228.89px;top:796.00px;font-size:20.35px;line-height:26px;color:#fff;letter-spacing:0.137px;">The additional $1.8b for new housing</div>
<div class="t" style="left:2227.98px;top:821.70px;font-size:20.35px;line-height:26px;color:#fff;letter-spacing:0.288px;">initiatives, following the previously</div>
<div class="t" style="left:2228.49px;top:846.50px;font-size:20.35px;line-height:26px;color:#fff;letter-spacing:0.009px;">announced $1.4b for Large Scale</div>
<div class="t" style="left:2227.67px;top:871.40px;font-size:20.35px;line-height:26px;color:#fff;letter-spacing:0.110px;">Projects in Auckland and last year’s</div>
<div class="t" style="left:2227.67px;top:896.20px;font-size:20.35px;line-height:26px;color:#fff;letter-spacing:0.194px;">Housing Acceleration Fund, is</div>
<div class="t" style="left:2228.49px;top:921.00px;font-size:20.35px;line-height:26px;color:#fff;letter-spacing:0.232px;">encouraging to see.</div>
<div class="t" style="left:2228.28px;top:961.40px;font-size:20.35px;line-height:26px;color:#fff;letter-spacing:0.208px;">Climate change is about capturing</div>
<div class="t" style="left:2228.49px;top:986.25px;font-size:20.35px;line-height:26px;color:#fff;letter-spacing:0.209px;">opportunities, as well as managing risks.</div>
<div class="t" style="left:2228.89px;top:1011.10px;font-size:20.35px;line-height:26px;color:#fff;letter-spacing:0.199px;">The Budget provides the springboard for</div>
<div class="t" style="left:2228.99px;top:1035.95px;font-size:20.35px;line-height:26px;color:#fff;letter-spacing:0.179px;">the ERP’s actions to become reality.</div>
</body></html>
